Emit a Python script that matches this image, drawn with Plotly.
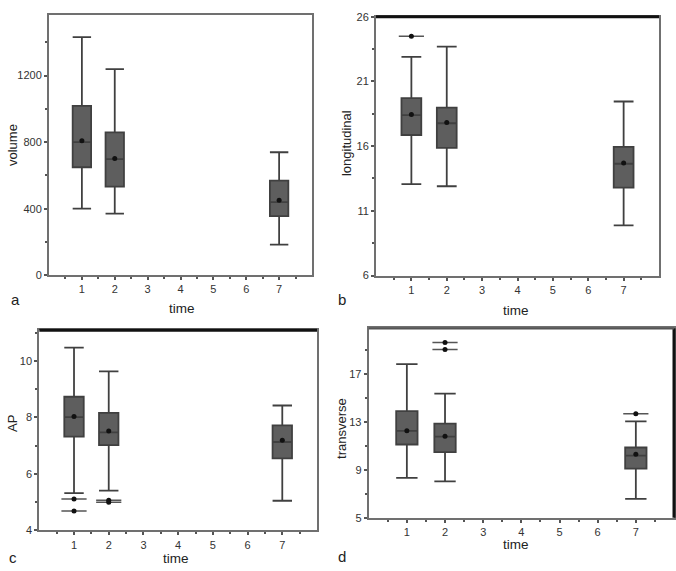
import plotly.graph_objects as go

W, H = 676, 571

times = [1, 2, 7]

# panel a: volume
vol_low = [400, 370, 184]
vol_q1 = [649, 533, 355]
vol_med = [800, 698, 439]
vol_q3 = [1018, 859, 569]
vol_high = [1431, 1239, 739]
vol_mean = [808, 702, 450]
vol_out_x, vol_out_y = [], []

# panel b: longitudinal
lon_low = [13.06, 12.9, 9.88]
lon_q1 = [16.86, 15.87, 12.8]
lon_med = [18.4, 17.77, 14.64]
lon_q3 = [19.71, 18.98, 15.95]
lon_high = [22.9, 23.7, 19.45]
lon_mean = [18.45, 17.82, 14.7]
lon_out_x, lon_out_y = [1], [24.5]

# panel c: AP
ap_low = [5.32, 5.41, 5.05]
ap_q1 = [7.32, 7.02, 6.55]
ap_med = [8.01, 7.47, 7.13]
ap_q3 = [8.73, 8.16, 7.72]
ap_high = [10.47, 9.63, 8.42]
ap_mean = [8.03, 7.52, 7.19]
ap_out_x, ap_out_y = [1, 1, 2, 2], [5.11, 4.69, 5.07, 5.0]

# panel d: transverse
tr_low = [8.33, 8.03, 6.58]
tr_q1 = [11.11, 10.48, 9.09]
tr_med = [12.25, 11.76, 10.18]
tr_q3 = [13.89, 12.85, 10.86]
tr_high = [17.82, 15.36, 13.04]
tr_mean = [12.25, 11.8, 10.3]
tr_out_x, tr_out_y = [2, 2, 7], [19.62, 19.04, 13.67]

x_ticks = [1, 2, 3, 4, 5, 6, 7]

panels = [
    dict(ax="", low=vol_low, q1=vol_q1, med=vol_med, q3=vol_q3, high=vol_high, mean=vol_mean,
         ox=vol_out_x, oy=vol_out_y, yr=[0, 1565], yticks=[0, 400, 800, 1200], ydt=200, y0=0,
         xdom=[49 / W, 312 / W], ydom=[1 - 275 / H, 1 - 9 / H], title="volume"),
    dict(ax="2", low=lon_low, q1=lon_q1, med=lon_med, q3=lon_q3, high=lon_high, mean=lon_mean,
         ox=lon_out_x, oy=lon_out_y, yr=[6, 26], yticks=[6, 11, 16, 21, 26], ydt=2.5, y0=6,
         xdom=[376 / W, 659 / W], ydom=[1 - 275.3 / H, 1 - 11 / H], title="longitudinal"),
    dict(ax="3", low=ap_low, q1=ap_q1, med=ap_med, q3=ap_q3, high=ap_high, mean=ap_mean,
         ox=ap_out_x, oy=ap_out_y, yr=[4, 11.08], yticks=[4, 6, 8, 10], ydt=1, y0=4,
         xdom=[39.3 / W, 317 / W], ydom=[1 - 535.7 / H, 1 - 331.3 / H], title="AP"),
    dict(ax="4", low=tr_low, q1=tr_q1, med=tr_med, q3=tr_q3, high=tr_high, mean=tr_mean,
         ox=tr_out_x, oy=tr_out_y, yr=[5, 20.8], yticks=[5, 9, 13, 17], ydt=2, y0=5,
         xdom=[368.7 / W, 674 / W], ydom=[1 - 522.7 / H, 1 - 329.3 / H], title="transverse"),
]

fig = go.Figure()
FONT = "Liberation Sans, Arial, sans-serif"
BOXFILL = "#5e5e5e"
EDGE = "#404040"
AXC = "#707070"

layout = dict(
    width=W, height=H, margin=dict(l=0, r=0, t=0, b=0),
    paper_bgcolor="white", plot_bgcolor="white", showlegend=False,
    font=dict(family=FONT, size=11, color="#333"),
)

for p in panels:
    a = p["ax"]
    xa, ya = "x" + a, "y" + a
    fig.add_trace(go.Box(
        x=times, q1=p["q1"], median=p["med"], q3=p["q3"],
        lowerfence=p["low"], upperfence=p["high"],
        width=0.56, whiskerwidth=1, fillcolor=BOXFILL,
        line=dict(color=EDGE, width=1.8), boxpoints=False,
        xaxis=xa, yaxis=ya, hoverinfo="skip",
    ))
    fig.add_trace(go.Scatter(
        x=times, y=p["mean"], mode="markers",
        marker=dict(symbol="circle", size=5, color="#111"),
        xaxis=xa, yaxis=ya, hoverinfo="skip",
    ))
    if p["ox"]:
        fig.add_trace(go.Scatter(
            x=p["ox"], y=p["oy"], mode="markers",
            marker=dict(symbol="line-ew", size=18, line=dict(color="#555", width=1.6)),
            xaxis=xa, yaxis=ya, hoverinfo="skip",
        ))
        fig.add_trace(go.Scatter(
            x=p["ox"], y=p["oy"], mode="markers",
            marker=dict(symbol="circle", size=5, color="#111"),
            xaxis=xa, yaxis=ya, hoverinfo="skip",
        ))
    xkey = "xaxis" + a
    ykey = "yaxis" + a
    layout[xkey] = dict(
        domain=p["xdom"], range=[0, 8], anchor=ya, tickmode="array",
        tickvals=x_ticks, ticktext=[str(t) for t in x_ticks],
        ticks="outside", ticklen=3, tickwidth=1.5, tickcolor="#555",
        minor=dict(tickmode="linear", tick0=0.5, dtick=1, ticks="outside", ticklen=2, tickwidth=2, tickcolor="#555"),
        showline=True, linecolor=AXC, linewidth=2, mirror=True,
        showgrid=False, zeroline=False, fixedrange=True,
        tickfont=dict(size=11, color="#333"),
    )
    layout[ykey] = dict(
        domain=p["ydom"], range=p["yr"], anchor=xa, tickmode="array",
        tickvals=p["yticks"], ticktext=[str(t) for t in p["yticks"]],
        ticks="outside", ticklen=3, tickwidth=1.5, tickcolor="#555",
        minor=dict(tickmode="linear", tick0=p["y0"], dtick=p["ydt"], ticks="outside", ticklen=2, tickwidth=2, tickcolor="#555"),
        showline=True, linecolor=AXC, linewidth=2, mirror=True,
        showgrid=False, zeroline=False, fixedrange=True,
        tickfont=dict(size=11, color="#333"),
    )

fig.update_layout(**layout)

# darker frame segments
shapes = [
    dict(type="line", xref="x2 domain", yref="y2 domain", x0=0, x1=1, y0=1, y1=1, line=dict(color="#111", width=3)),
    dict(type="line", xref="x3 domain", yref="y3 domain", x0=0, x1=1, y0=1, y1=1, line=dict(color="#111", width=3)),
    dict(type="line", xref="x4 domain", yref="y4 domain", x0=1, x1=1, y0=0, y1=1, line=dict(color="#111", width=3)),
    dict(type="line", xref="x4 domain", yref="y4 domain", x0=0, x1=1, y0=1, y1=1, line=dict(color="#555", width=2)),
]
fig.update_layout(shapes=shapes)

def ann(text, x, y, size, angle=0):
    fig.add_annotation(text=text, x=x / W, y=1 - y / H, xref="paper", yref="paper",
                       showarrow=False, textangle=angle, xanchor="center", yanchor="middle",
                       borderpad=0,
                       font=dict(family=FONT, size=size, color="#222"))

ann("time", 182, 309, 13.5)
ann("time", 516, 311, 13.5)
ann("time", 176, 564, 13.5)
ann("time", 516, 550, 13.5)
ann("a", 15, 300, 15)
ann("b", 342, 300, 15)
ann("c", 13, 563, 15)
ann("d", 342, 562, 15)
ann("volume", 12, 142, 13, -90)
ann("longitudinal", 346, 140, 13, -90)
ann("AP", 12, 427, 13, -90)
ann("transverse", 342, 432, 13, -90)

fig.write_html("out.html")
